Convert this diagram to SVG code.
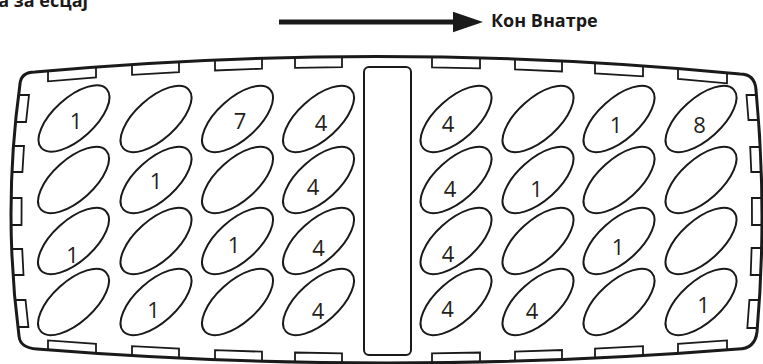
<svg xmlns="http://www.w3.org/2000/svg" width="763" height="364" viewBox="0 0 763 364">
<style>
.edge{fill:none;stroke:#1a1a1a;stroke-width:3;stroke-linejoin:round}
.tab{fill:none;stroke:#1a1a1a;stroke-width:1.8;stroke-linejoin:miter}
.cell{fill:none;stroke:#1a1a1a;stroke-width:2}
.num{font-family:"Open Sans","Noto Sans",sans-serif;font-size:22px;fill:#231f20;text-anchor:middle}
.lbl{font-family:"Open Sans","Noto Sans",sans-serif;font-size:18px;font-weight:700;fill:#1a1a1a}
</style>
<defs>
<ellipse id="egg" cx="0" cy="0" rx="44" ry="20.5" transform="rotate(-42)"/>
</defs>
<rect width="763" height="364" fill="#fff"/>

<text class="lbl" x="88" y="6.7" text-anchor="end">а за есцај</text>

<g id="connectors">
<line x1="279" y1="22" x2="456" y2="22" stroke="#1a1a1a" stroke-width="5"/>
<polygon points="453,11.7 483,22 453,32.3" fill="#1a1a1a"/>
</g>
<text class="lbl" x="491" y="26.7">Кон Внатре</text>

<g id="tray">
<path class="edge" d="M35,72 Q387.5,40 740,74 Q755,74 756,90 Q767.5,211 757,332 Q755,349 738,349 Q387.5,377 37,349 Q20,348 19,336 Q2.5,210 20,84 Q21,72 35,72 Z"/>
</g>

<g id="tabs">
<path class="tab" d="M48,70.8 L48,81.3 L96,77.5 L96,67"/>
<path class="tab" d="M132,64.4 L132,74.9 L179,72.2 L179,61.7"/>
<path class="tab" d="M215,60 L215,70.5 L262,68.7 L262,58.2"/>
<path class="tab" d="M295,57.4 L295,67.9 L342,67.2 L342,56.7"/>
<path class="tab" d="M432,56.9 L432,67.4 L480,68.4 L480,57.9"/>
<path class="tab" d="M515,59 L515,69.5 L562,71.5 L562,61"/>
<path class="tab" d="M595,62.8 L595,73.3 L643,76.4 L643,65.9"/>
<path class="tab" d="M678,68.5 L678,79 L727,83.3 L727,72.8"/>

<path class="tab" d="M48,349.9 L48,340.4 L96,343.8 L96,353.3"/>
<path class="tab" d="M132,355.6 L132,346.1 L179,348.5 L179,358"/>
<path class="tab" d="M215,359.6 L215,350.1 L262,351.7 L262,361.2"/>
<path class="tab" d="M295,362 L295,352.5 L342,353.3 L342,362.8"/>
<path class="tab" d="M432,362.8 L432,353.3 L480,352.5 L480,362"/>
<path class="tab" d="M515,361.1 L515,351.6 L562,350 L562,359.5"/>
<path class="tab" d="M595,358.1 L595,348.6 L643,346.1 L643,355.6"/>
<path class="tab" d="M678,353.4 L678,343.9 L727,340.4 L727,349.9"/>

<path class="tab" d="M18.5,95 L29,95 L26,122 L15.5,122"/>
<path class="tab" d="M13.5,146 L24,146 L22.4,172 L11.9,172"/>
<path class="tab" d="M11.1,198 L21.6,198 L21.5,225 L11,225"/>
<path class="tab" d="M11.7,249 L22.2,249 L23.5,275 L13,275"/>
<path class="tab" d="M15,300 L25.5,300 L28.4,327 L17.9,327"/>

<path class="tab" d="M756.5,95 L746.5,95 L748.5,120 L758.5,120"/>
<path class="tab" d="M760.2,147 L750.2,147 L751.3,172 L761.3,172"/>
<path class="tab" d="M761.9,198 L751.9,198 L752,225 L762,225"/>
<path class="tab" d="M761.6,248 L751.6,248 L750.7,275 L760.7,275"/>
<path class="tab" d="M759.4,300 L749.4,300 L747.3,328 L757.3,328"/>
</g>

<g id="divider">
<rect x="364" y="67" width="47" height="288" rx="5" fill="none" stroke="#1a1a1a" stroke-width="2"/>
</g>

<g id="cells">
<g id="r1c1"><use href="#egg" class="cell" x="74" y="118.5"/><text class="num" x="76" y="129">1</text></g>
<g id="r1c2"><use href="#egg" class="cell" x="156" y="119"/></g>
<g id="r1c3"><use href="#egg" class="cell" x="237.5" y="119"/><text class="num" x="240" y="129">7</text></g>
<g id="r1c4"><use href="#egg" class="cell" x="318.5" y="119"/><text class="num" x="321" y="131">4</text></g>
<g id="r1c5"><use href="#egg" class="cell" x="456" y="119"/><text class="num" x="448" y="132">4</text></g>
<g id="r1c6"><use href="#egg" class="cell" x="538" y="119"/></g>
<g id="r1c7"><use href="#egg" class="cell" x="619" y="119"/><text class="num" x="616" y="133">1</text></g>
<g id="r1c8"><use href="#egg" class="cell" x="701" y="119"/><text class="num" x="699.5" y="133">8</text></g>

<g id="r2c1"><use href="#egg" class="cell" x="73.5" y="180"/></g>
<g id="r2c2"><use href="#egg" class="cell" x="156" y="180"/><text class="num" x="156" y="189">1</text></g>
<g id="r2c3"><use href="#egg" class="cell" x="237.5" y="180"/></g>
<g id="r2c4"><use href="#egg" class="cell" x="318.5" y="180"/><text class="num" x="313" y="195">4</text></g>
<g id="r2c5"><use href="#egg" class="cell" x="456" y="180"/><text class="num" x="450" y="197">4</text></g>
<g id="r2c6"><use href="#egg" class="cell" x="538" y="180"/><text class="num" x="536.5" y="197">1</text></g>
<g id="r2c7"><use href="#egg" class="cell" x="619" y="180"/></g>
<g id="r2c8"><use href="#egg" class="cell" x="701" y="180"/></g>

<g id="r3c1"><use href="#egg" class="cell" x="73.5" y="241"/><text class="num" x="72.5" y="263">1</text></g>
<g id="r3c2"><use href="#egg" class="cell" x="156" y="241"/></g>
<g id="r3c3"><use href="#egg" class="cell" x="237.5" y="241"/><text class="num" x="234" y="253">1</text></g>
<g id="r3c4"><use href="#egg" class="cell" x="318.5" y="241"/><text class="num" x="318.5" y="256">4</text></g>
<g id="r3c5"><use href="#egg" class="cell" x="456" y="241"/><text class="num" x="448" y="262">4</text></g>
<g id="r3c6"><use href="#egg" class="cell" x="538" y="241"/></g>
<g id="r3c7"><use href="#egg" class="cell" x="619" y="241"/><text class="num" x="618" y="255">1</text></g>
<g id="r3c8"><use href="#egg" class="cell" x="701" y="241"/></g>

<g id="r4c1"><use href="#egg" class="cell" x="73.5" y="302"/></g>
<g id="r4c2"><use href="#egg" class="cell" x="156" y="302"/><text class="num" x="153.5" y="318">1</text></g>
<g id="r4c3"><use href="#egg" class="cell" x="237.5" y="302"/></g>
<g id="r4c4"><use href="#egg" class="cell" x="318.5" y="302"/><text class="num" x="318" y="319">4</text></g>
<g id="r4c5"><use href="#egg" class="cell" x="456" y="302"/><text class="num" x="447.5" y="317">4</text></g>
<g id="r4c6"><use href="#egg" class="cell" x="538" y="302"/><text class="num" x="532" y="319">4</text></g>
<g id="r4c7"><use href="#egg" class="cell" x="619" y="302"/></g>
<g id="r4c8"><use href="#egg" class="cell" x="701" y="302"/><text class="num" x="703.5" y="313">1</text></g>
</g>
</svg>
